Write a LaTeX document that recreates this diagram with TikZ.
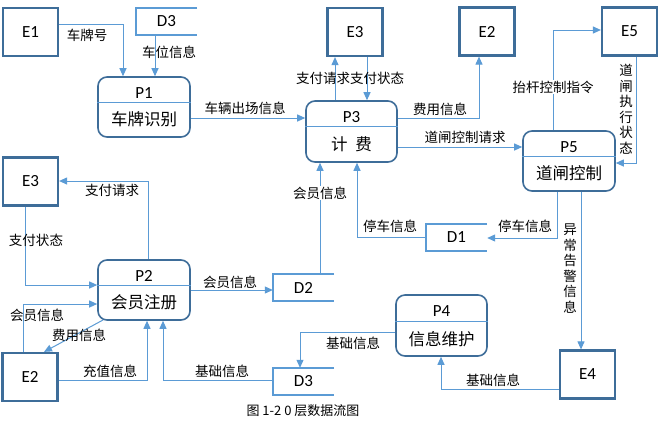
\documentclass[tikz,border=0pt]{standalone}
\usepackage{fontspec}
\setmainfont{Carlito}
\newfontfamily\cjk{Noto Sans CJK SC}
\usetikzlibrary{arrows.meta,calc}
\definecolor{ebord}{HTML}{3E6D99}
\definecolor{dbord}{HTML}{5B9BD5}
\definecolor{flowc}{HTML}{5B9BD5}
\begin{document}
\begin{tikzpicture}[x=1pt,y=-1pt,
 ent/.style={draw=ebord,line width=2.2pt,minimum width=55pt,minimum height=48pt,inner sep=0pt,font=\fontsize{17}{19}\selectfont},
 proc/.style={draw=ebord,line width=1.6pt,rounded corners=9pt,minimum width=92pt,minimum height=60pt,inner sep=0pt},
 dstore/.style={minimum width=61pt,minimum height=27pt,inner sep=0pt,font=\fontsize{17}{19}\selectfont},
 dline/.style={draw=dbord,line width=2pt},
 divl/.style={draw=dbord,line width=0.8pt},
 flow/.style={draw=flowc,line width=1pt,-{Triangle[length=8pt,width=7pt]}},
 lbl/.style={font=\cjk\fontsize{13.5}{15.5}\selectfont,inner sep=1pt},
 vlbl/.style={font=\cjk\fontsize{13.5}{15.5}\selectfont,inner sep=1pt,align=center},
 pid/.style={font=\fontsize{17}{19}\selectfont,inner sep=0pt},
 pname/.style={font=\cjk\fontsize{16.5}{18}\selectfont,inner sep=0pt},
]
\useasboundingbox[fill=white] (0,0) rectangle (660,424);

% external entities
\node[ent] (E1)  at (30.5,32)  {E1};
\node[ent] (E3a) at (355,32)   {E3};
\node[ent] (E2a) at (487,31.5) {E2};
\node[ent] (E5)  at (629.5,31.5) {E5};
\node[ent] (E3b) at (30.5,181.5) {E3};
\node[ent] (E2b) at (30,377)   {E2};
\node[ent] (E4)  at (587.5,374.5) {E4};

% data stores
\node[dstore] (D3a) at (166.5,21.5) {D3};
\node[dstore] (D2)  at (303.5,287.5) {D2};
\node[dstore] (D1)  at (456.5,237.5) {D1};
\node[dstore] (D3b) at (303.5,381.5) {D3};
\foreach \d in {D3a,D2,D1,D3b}{
  \draw[dline] (\d.north east) -- (\d.north west) -- (\d.south west) -- (\d.south east);
}

% processes
\node[proc] (P1) at (144,107) {};
\draw[divl] (P1.west |- 0,102) -- (P1.east |- 0,102);
\node[pid] at (144,93) {P1};
\node[pname] at (144,119) {车牌识别};

\node[proc,minimum width=91pt,minimum height=61pt] (P3) at (351.5,131.5) {};
\draw[divl] (P3.west |- 0,126) -- (P3.east |- 0,126);
\node[pid] at (351.5,117) {P3};
\node[pname] at (351.5,144) {计\hspace{8pt}费};

\node[proc] (P5) at (569,161) {};
\draw[divl] (P5.west |- 0,156) -- (P5.east |- 0,156);
\node[pid] at (569,147) {P5};
\node[pname] at (569,173) {道闸控制};

\node[proc] (P2) at (144,290) {};
\draw[divl] (P2.west |- 0,285) -- (P2.east |- 0,285);
\node[pid] at (144,276) {P2};
\node[pname] at (144,302) {会员注册};

\node[proc,minimum width=91pt,minimum height=61pt] (P4) at (441.5,325.5) {};
\draw[divl] (P4.west |- 0,321) -- (P4.east |- 0,321);
\node[pid] at (441.5,311) {P4};
\node[pname] at (441.5,339) {信息维护};

% flows
\draw[flow] (E1.east |- 0,24) -| (P1.north -| 123,0);
\node[lbl] at (87,35) {车牌号};
\draw[flow] (D3a.south -| 155,0) -- (P1.north -| 155,0);
\node[lbl] at (169,52) {车位信息};
\draw[flow] (P1.east |- 0,118) -- (P3.west |- 0,118);
\node[lbl] at (245,108) {车辆出场信息};

\draw[flow] (P3.north -| 335,0) -- (E3a.south -| 335,0);
\draw[flow] (E3a.south -| 367,0) -- (P3.north -| 367,0);
\node[lbl] at (350,78) {支付请求支付状态};

\draw[flow] (P3.east |- 0,118) -| (E2a.south -| 479,0);
\node[lbl] at (440,109) {费用信息};
\draw[flow] (P3.east |- 0,147) -- (P5.west |- 0,147);
\node[lbl] at (465,137) {道闸控制请求};

\draw[flow] (P5.north -| 553,0) |- (E5.west |- 0,30);
\node[lbl,fill=white] at (553,87) {抬杆控制指令};
\draw[flow] (E5.south -| 636,0) |- (P5.east |- 0,163);
\node[vlbl] at (626,109) {道\\闸\\执\\行\\状\\态};

\draw[flow] (P2.north -| 148,0) |- (E3b.east |- 0,181);
\node[lbl] at (112,190) {支付请求};
\draw[flow] (E3b.south -| 25,0) |- (P2.west |- 0,285);
\node[lbl] at (36,240) {支付状态};

\draw[flow] (E2b.north -| 23,0) |- (P2.west |- 0,304);
\node[lbl] at (37,315) {会员信息};
\coordinate (p2bl) at (103,320);
\draw[flow] (p2bl) -- (E2b.north -| 44,0);
\node[lbl] at (79,335) {费用信息};
\draw[flow] (E2b.east |- 0,380) -| (P2.south -| 147,0);
\node[lbl] at (110,371) {充值信息};
\draw[flow] (D3b.west |- 0,380) -| (P2.south -| 163,0);
\node[lbl] at (222,371) {基础信息};

\draw[flow] (P2.east |- 0,290) -- (D2.west |- 0,290);
\node[lbl] at (230,282) {会员信息};
\draw[flow] (D2.north -| 320,0) -- (P3.south -| 320,0);
\node[lbl,fill=white] at (320,193) {会员信息};

\draw[flow] (D1.west |- 0,237) -| (P3.south -| 357,0);
\node[lbl] at (390,226) {停车信息};
\draw[flow] (P5.south -| 557,0) |- (D1.east |- 0,238);
\node[lbl] at (525,226) {停车信息};

\draw[flow] (P5.south -| 581,0) -- (E4.north -| 581,0);
\node[vlbl,text depth=0pt] at (570,268) {异\\常\\告\\警\\信\\息};

\draw[flow] (E4.west |- 0,389) -| (P4.south -| 441,0);
\node[lbl] at (493,380) {基础信息};
\draw[flow] (P4.west |- 0,332) -| (D3b.north -| 300,0);
\node[lbl] at (353,343) {基础信息};

% caption
\node[font=\cjk\fontsize{13}{15}\selectfont] (cap) at (303,411) {图 1-2 0 层数据流图};
\end{tikzpicture}
\end{document}
